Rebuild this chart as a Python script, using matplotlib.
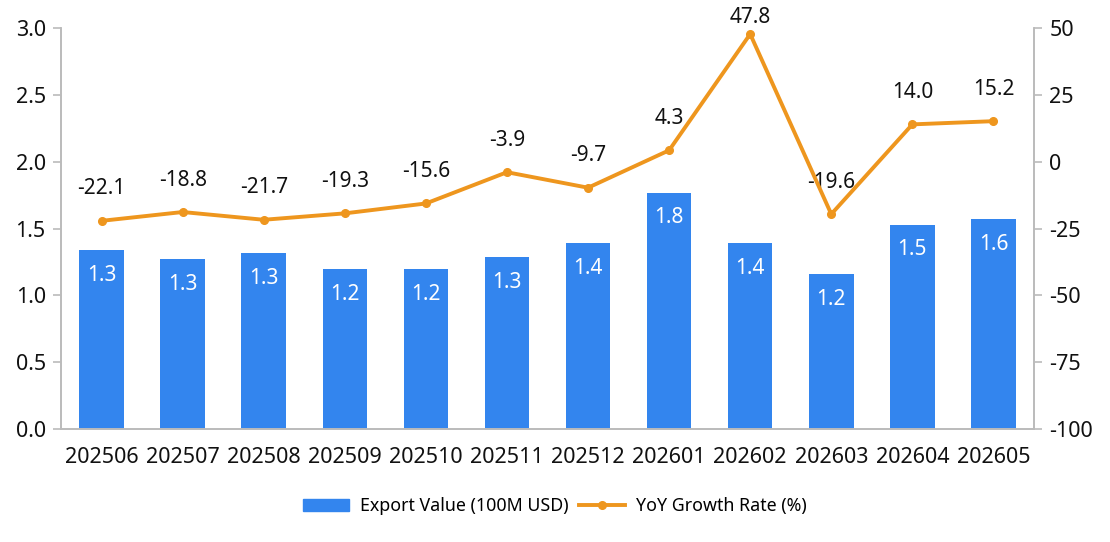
import numpy as np
import matplotlib.pyplot as plt
from matplotlib.lines import Line2D
from matplotlib.patches import Patch

plt.rcParams['font.family'] = ['Noto Sans', 'DejaVu Sans']
plt.rcParams['axes.unicode_minus'] = False

months = ['202506', '202507', '202508', '202509', '202510', '202511',
          '202512', '202601', '202602', '202603', '202604', '202605']
export_value = [1.34, 1.27, 1.32, 1.20, 1.20, 1.29, 1.39, 1.77, 1.39, 1.16, 1.53, 1.57]
yoy_growth = [-22.1, -18.8, -21.7, -19.3, -15.6, -3.9, -9.7, 4.3, 47.8, -19.6, 14.0, 15.2]

bar_color = '#3385EE'
line_color = '#EE961E'
spine_color = '#BBBBBB'

fig = plt.figure(figsize=(11.1, 5.42), dpi=100)
ax = fig.add_axes([0.055, 0.2085, 0.8765, 0.7395])
ax2 = ax.twinx()

x = np.arange(len(months))
ax.bar(x, export_value, width=0.55, color=bar_color, zorder=2)
for xi, v in zip(x, export_value):
    ax.text(xi, v - 0.19, f'{v:.1f}', ha='center', va='center',
            color='white', fontsize=15, zorder=3)

ax2.plot(x, yoy_growth, color=line_color, lw=2.8, marker='o', ms=5.5, zorder=4)
for xi, v in zip(x, yoy_growth):
    # keep the top label inside the figure
    off = 12 if v > 40 else 23
    ax2.annotate(f'{v:.1f}', (xi, v), xytext=(0, off), textcoords='offset points',
                 ha='center', va='center', fontsize=15, color='#111111')

ax.set_xlim(-0.5, len(months) - 0.5)
ax.set_ylim(0, 3.0)
ax.set_yticks(np.arange(0, 3.01, 0.5))
ax.set_yticklabels([f'{t:.1f}' for t in np.arange(0, 3.01, 0.5)])
ax2.set_ylim(-100, 50)
ax2.set_yticks(np.arange(-100, 51, 25))

ax.set_xticks(x)
ax.set_xticklabels(months)

for a in (ax, ax2):
    a.spines['top'].set_visible(False)
    for s in ('left', 'right', 'bottom'):
        a.spines[s].set_color(spine_color)
        a.spines[s].set_linewidth(1.2)
    a.tick_params(axis='y', colors=spine_color, labelcolor='#111111',
                  labelsize=15.5, length=6, width=1.2, pad=5)
ax.tick_params(axis='x', length=0, labelsize=15.5, labelcolor='#111111', pad=13)
ax.set_zorder(ax2.get_zorder() - 1)
ax2.patch.set_visible(False)
ax.patch.set_visible(True)

handles = [Patch(color=bar_color, label='Export Value (100M USD)'),
           Line2D([0], [0], color=line_color, lw=2.8, marker='o', ms=5.5,
                  label='YoY Growth Rate (%)')]
fig.legend(handles=handles, loc='center', bbox_to_anchor=(0.5, 0.066), ncol=2,
           frameon=False, fontsize=12.8, handlelength=2.6, columnspacing=0.6,
           handletextpad=0.6)

fig.savefig('out.png', dpi=100)
